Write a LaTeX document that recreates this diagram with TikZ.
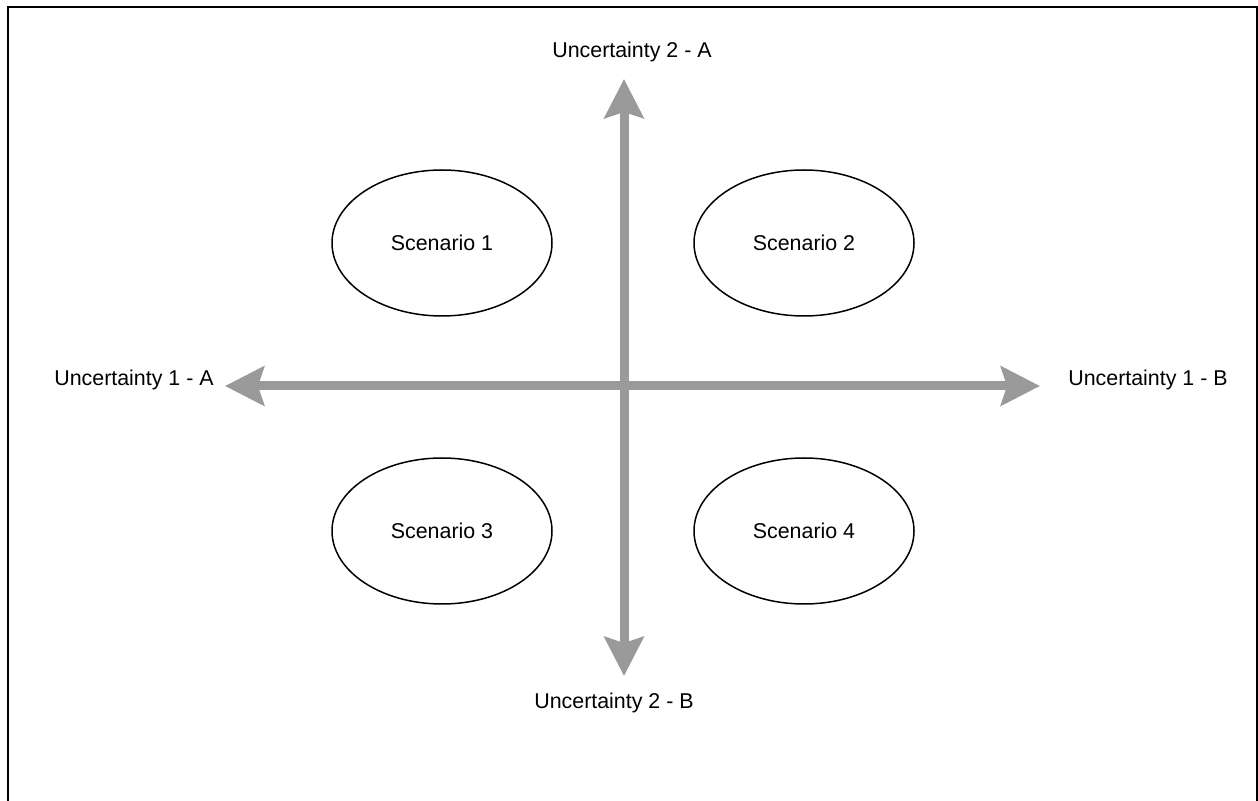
\documentclass[tikz,border=0pt]{standalone}
\usepackage{fontspec}
\setmainfont{Liberation Sans}
\usetikzlibrary{arrows.meta,shapes.geometric}
\definecolor{axisgray}{RGB}{154,154,154}
\tikzset{
  scen/.style={draw,ellipse,line width=0.75pt,minimum width=110pt,minimum height=73pt,font=\fontsize{10.7}{12}\selectfont},
  lbl/.style={font=\fontsize{10.7}{12}\selectfont},
  axis/.style={axisgray,line width=4.5pt,
    {Stealth[length=19.5pt,width=19.5pt,inset=3pt]}-{Stealth[length=19.5pt,width=19.5pt,inset=3pt]}}
}
\begin{document}
\begin{tikzpicture}[x=0.5pt,y=-0.5pt]
	\useasboundingbox (0,0) rectangle (1258,801);
	% frame
	\draw[line width=1pt] (7.5,801) -- (7.5,7) -- (1256.5,7) -- (1256.5,801);
	% axes
	\coordinate (tipW) at (225,386);
	\coordinate (tipE) at (1040,386);
	\coordinate (tipN) at (624,79);
	\coordinate (tipS) at (624,676);
	\draw[axis] (tipW) -- (tipE);
	\draw[axis] (tipN) -- (tipS);
	\node[lbl] (u1a) at (134,380) {Uncertainty 1 - A};
	\node[lbl] (u1b) at (1148,380) {Uncertainty 1 - B};
	\node[lbl] (u2a) at (632,52) {Uncertainty 2 - A};
	\node[lbl] (u2b) at (614,703) {Uncertainty 2 - B};
	% scenarios
	\node[scen] (s1) at (442,243) {Scenario 1};
	\node[scen] (s2) at (804,243) {Scenario 2};
	\node[scen] (s3) at (442,531) {Scenario 3};
	\node[scen] (s4) at (804,531) {Scenario 4};
\end{tikzpicture}
\end{document}
